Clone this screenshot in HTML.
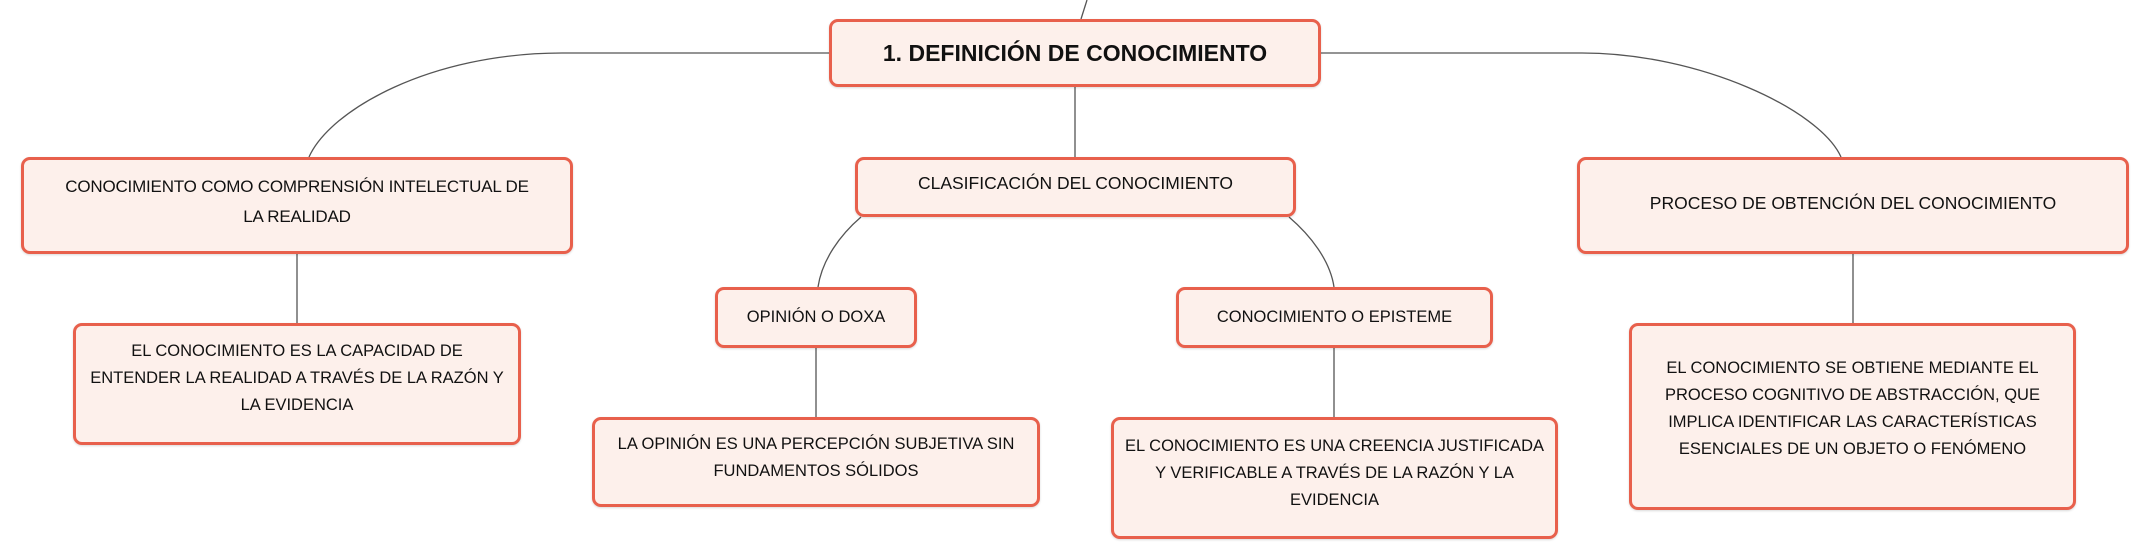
<!DOCTYPE html>
<html><head><meta charset="utf-8"><style>
body{margin:0;width:2151px;height:559px;background:#fff;position:relative;overflow:hidden;font-family:"Liberation Sans",sans-serif;}
.n{position:absolute;box-sizing:border-box;border:3px solid #e8604c;background:#fdf0eb;border-radius:9px;display:flex;align-items:center;justify-content:center;text-align:center;color:#111;font-size:16.5px;line-height:27px;box-shadow:0 1px 2px rgba(0,0,0,.15);padding:0 4px;}
svg{position:absolute;left:0;top:0;}
</style></head><body>
<svg width="2151" height="559"><g fill="none" stroke="#555" stroke-width="1.3">
<path d="M1081 19 L1087 0"/>
<path d="M829 53 L562 53 C430 53 330 110 309 157"/>
<path d="M1321 53 L1582 53 C1700 53 1820 110 1841 157"/>
<path d="M1075 87 L1075 157"/>
<path d="M861 217 C840 235 822 260 818 287"/>
<path d="M1289 217 C1310 235 1330 260 1334 287"/>
<path d="M297 254 L297 323"/>
<path d="M816 348 L816 417"/>
<path d="M1334 348 L1334 417"/>
<path d="M1853 254 L1853 323"/>
</g></svg>
<div class="n" style="left:829px;top:19px;width:492px;height:68px;font-weight:bold;font-size:23px;">1. DEFINICIÓN DE CONOCIMIENTO</div>
<div class="n" style="left:21px;top:157px;width:552px;height:97px;font-size:17px;letter-spacing:-0.2px;line-height:30px;padding:0 0 8px;white-space:nowrap;">CONOCIMIENTO COMO COMPRENSIÓN INTELECTUAL DE<br>LA REALIDAD</div>
<div class="n" style="left:73px;top:323px;width:448px;height:122px;padding:0 14px 12px;">EL CONOCIMIENTO ES LA CAPACIDAD DE ENTENDER LA REALIDAD A TRAVÉS DE LA RAZÓN Y LA EVIDENCIA</div>
<div class="n" style="left:855px;top:157px;width:441px;height:60px;font-size:17.5px;padding-bottom:8px;">CLASIFICACIÓN DEL CONOCIMIENTO</div>
<div class="n" style="left:715px;top:287px;width:202px;height:61px;">OPINIÓN O DOXA</div>
<div class="n" style="left:592px;top:417px;width:448px;height:90px;padding:0 12px 8px;">LA OPINIÓN ES UNA PERCEPCIÓN SUBJETIVA SIN FUNDAMENTOS SÓLIDOS</div>
<div class="n" style="left:1176px;top:287px;width:317px;height:61px;">CONOCIMIENTO O EPISTEME</div>
<div class="n" style="left:1111px;top:417px;width:447px;height:122px;padding:0 6px 10px;">EL CONOCIMIENTO ES UNA CREENCIA JUSTIFICADA<br>Y VERIFICABLE A TRAVÉS DE LA RAZÓN Y LA<br>EVIDENCIA</div>
<div class="n" style="left:1577px;top:157px;width:552px;height:97px;font-size:17.5px;padding-bottom:4px;">PROCESO DE OBTENCIÓN DEL CONOCIMIENTO</div>
<div class="n" style="left:1629px;top:323px;width:447px;height:187px;padding:0 22px 16px;">EL CONOCIMIENTO SE OBTIENE MEDIANTE EL PROCESO COGNITIVO DE ABSTRACCIÓN, QUE IMPLICA IDENTIFICAR LAS CARACTERÍSTICAS ESENCIALES DE UN OBJETO O FENÓMENO</div>
</body></html>
